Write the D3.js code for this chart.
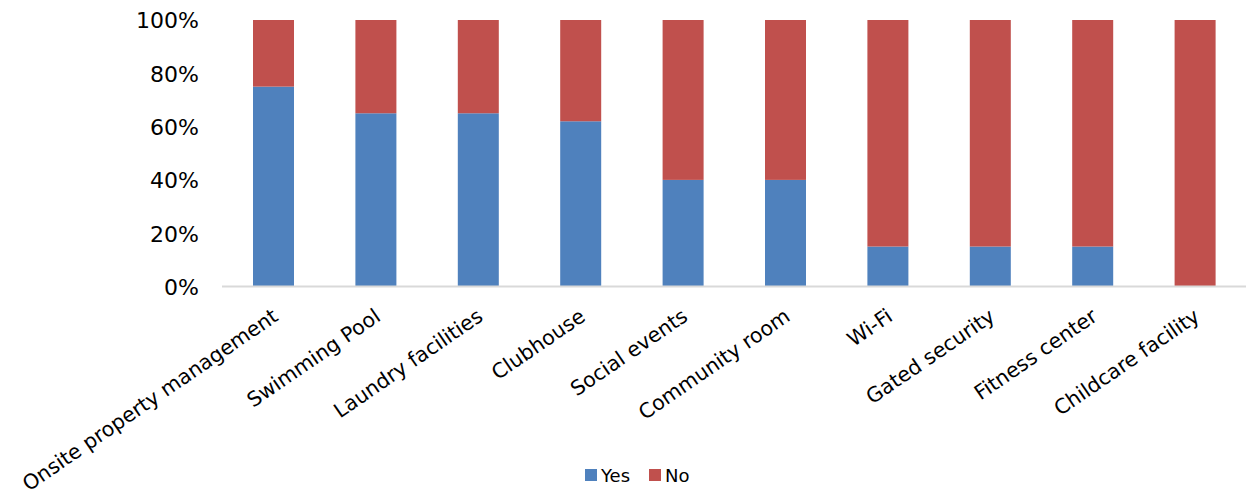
<!DOCTYPE html>
<html><head><meta charset="utf-8">
<script src="https://cdn.jsdelivr.net/npm/d3@7"></script>
<style>body{margin:0;background:#fff}svg{display:block}</style>
</head><body>
<svg id="c" width="1248" height="491"></svg>
<script>
const categories = ["Onsite property management","Swimming Pool","Laundry facilities","Clubhouse","Social events","Community room","Wi-Fi","Gated security","Fitness center","Childcare facility"];
const yesValues = [75,65,65,62,40,40,15,15,15,0];
const noValues = [25,35,35,38,60,60,85,85,85,100];
const seriesNames = ["Yes","No"];
const seriesColors = ["#4F81BD","#C0504D"];
const yTicks = [0,20,40,60,80,100];

const svg = d3.select("#c");
const font = "DejaVu Sans";
const x = d3.scaleBand().domain(categories).range([222.3,1246.3]).paddingInner(0.5996).paddingOuter(0.2998);
const y = d3.scaleLinear().domain([0,100]).range([286.5,20]);

const data = categories.map((c,i)=>({cat:c, Yes:yesValues[i], No:noValues[i]}));
const stacked = d3.stack().keys(seriesNames)(data);

svg.append("g").selectAll("g").data(stacked).join("g")
  .attr("fill",(d,i)=>seriesColors[i])
  .selectAll("rect").data(d=>d).join("rect")
  .attr("x",d=>x(d.data.cat))
  .attr("width",x.bandwidth())
  .attr("y",d=>y(d[1]))
  .attr("height",d=>y(d[0])-y(d[1]));

// x axis line
svg.append("line").attr("x1",222).attr("x2",1246).attr("y1",286.5).attr("y2",286.5)
  .attr("stroke","#d9d9d9").attr("stroke-width",2);

// y axis labels
const ya = svg.append("g").attr("transform","translate(199,0)")
  .call(d3.axisLeft(y).tickValues(yTicks).tickFormat(d=>d+"%").tickSize(0).tickPadding(0));
ya.select(".domain").remove();
ya.selectAll("text").attr("font-family",font).attr("font-size",22).attr("fill","#000").attr("dy","0.36em");

// x labels
const xa = svg.append("g").attr("transform","translate(0,286.5)")
  .call(d3.axisBottom(x).tickSize(0).tickPadding(0));
xa.select(".domain").remove();
xa.selectAll("text")
  .attr("font-family",font).attr("font-size",20.5).attr("fill","#000")
  .attr("text-anchor","end").attr("dy",0).attr("y",0)
  .attr("transform","translate(6,33) rotate(-34.5)");

// legend
const lg = svg.append("g").attr("font-family",font).attr("font-size",18);
const lx = [585,649];
seriesNames.forEach((s,i)=>{
  lg.append("rect").attr("x",lx[i]).attr("y",469).attr("width",12).attr("height",12).attr("fill",seriesColors[i]);
  lg.append("text").attr("x",lx[i]+16).attr("y",481.5).text(s).attr("fill","#000");
});
</script>
</body></html>
